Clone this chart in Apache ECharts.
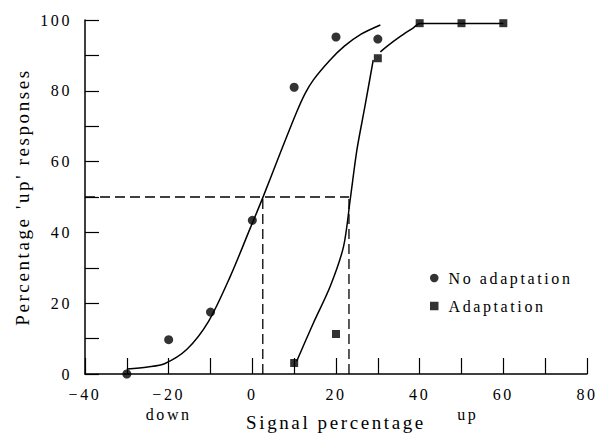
<!DOCTYPE html>
<html>
<head>
<meta charset="utf-8">
<script src="https://cdn.jsdelivr.net/npm/echarts@6/dist/echarts.min.js"></script>
<style>
html, body { margin: 0; padding: 0; background: #fff; }
#chart { width: 600px; height: 442px; }
#chart text { letter-spacing: 2.6px; }
</style>
</head>
<body>
<div id="chart"></div>
<script>
// ---- data ----
const noAdaptSignal = [-30, -20, -10, 0, 10, 20, 30];
const noAdaptUp     = [0, 9.7, 17.5, 43.4, 81, 95.2, 94.6];

const adaptSignal = [10, 20, 30, 40, 50, 60];
const adaptUp     = [3.1, 11.3, 89.2, 99.1, 99.1, 99.1];

// fitted curves
const noAdaptFitX = [-30, -25, -21, -15.7, -10.5, -5.3, -0.5, 2.6, 6.6, 10.6, 12.6, 14.6, 18.6, 22, 26, 30.6];
const noAdaptFitY = [1.4, 2.0, 2.9, 6.9, 14.8, 27.5, 41.2, 50.1, 62.2, 74.0, 79.2, 83.1, 88.7, 92.6, 96.0, 98.6];

const adaptFitLowX = [10.6, 14.6, 18.6, 21.8, 23.4, 25.0, 26.9, 28.9];
const adaptFitLowY = [3.6, 14.4, 24.7, 36.0, 49.3, 63.3, 75.5, 88.7];
const adaptFitHighX = [30.6, 32.1, 35.3, 38.5, 40, 50, 60];
const adaptFitHighY = [91.0, 92.5, 95.3, 97.8, 99, 99, 99];

// 50% points
const criterion = 50;
const pse = [2.5, 23.1];

// axis settings
const xMin = -40, xMax = 80, xStep = 10, xLabelStep = 20;
const yMin = 0, yMax = 100, yStep = 10, yLabelStep = 20;

const dirLabels = ['down', 'up'];
const dirPos = [-20, 51.5];

const FONT = "'Liberation Serif', serif";
const zip = (a, b) => a.map((v, i) => [v, b[i]]);
const lineStyle = { color: '#000', width: 1.5 };
const dashStyle = { color: '#000', width: 1.3, type: [10, 5] };

const chart = echarts.init(document.getElementById('chart'), null, { renderer: 'svg' });

const option = {
  animation: false,
  backgroundColor: '#fff',
  grid: { left: 85, right: 13, top: 20, bottom: 68 },
  xAxis: {
    type: 'value', min: xMin, max: xMax, interval: xStep,
    axisLine: { onZero: false, lineStyle: { color: '#000', width: 1.5 } },
    axisTick: { inside: true, length: 16, lineStyle: { color: '#000', width: 1.2 } },
    splitLine: { show: false },
    axisLabel: {
      color: '#000', fontFamily: FONT, fontSize: 16, margin: 12,
      formatter: v => (v % xLabelStep === 0 ? String(v).replace('-', '\u2212') : '')
    },
    name: 'Signal percentage', nameLocation: 'middle', nameGap: 39,
    nameTextStyle: { color: '#000', fontFamily: FONT, fontSize: 19 }
  },
  yAxis: {
    type: 'value', min: yMin, max: yMax, interval: yStep,
    axisLine: { show: true, onZero: false, lineStyle: { color: '#000', width: 1.5 } },
    axisTick: { show: true, inside: true, length: 14, lineStyle: { color: '#000', width: 1.2 } },
    splitLine: { show: false },
    axisLabel: {
      color: '#000', fontFamily: FONT, fontSize: 16, margin: 13,
      formatter: v => (v % yLabelStep === 0 ? String(v) : '')
    },
    name: "Percentage 'up' responses", nameLocation: 'middle', nameGap: 53, nameRotate: 90,
    nameTextStyle: { color: '#000', fontFamily: FONT, fontSize: 19 }
  },
  legend: {
    orient: 'vertical', left: 425, top: 265, itemGap: 12,
    itemWidth: 8.5, itemHeight: 8.5,
    data: [{ name: 'No adaptation', icon: 'circle' }, { name: 'Adaptation', icon: 'rect' }],
    textStyle: { color: '#000', fontFamily: FONT, fontSize: 16, padding: [0, 0, 0, 5] }
  },
  series: [
    { type: 'line', data: zip(noAdaptFitX, noAdaptFitY), smooth: 0.3, symbol: 'none', lineStyle, silent: true },
    { type: 'line', data: zip(adaptFitLowX, adaptFitLowY), smooth: 0.3, symbol: 'none', lineStyle, silent: true },
    { type: 'line', data: zip(adaptFitHighX, adaptFitHighY), smooth: 0.3, symbol: 'none', lineStyle, silent: true },
    { type: 'line', data: [[xMin, criterion], [pse[1], criterion]], symbol: 'none', lineStyle: dashStyle, silent: true },
    { type: 'line', data: [[pse[0], yMin], [pse[0], criterion]], symbol: 'none', lineStyle: dashStyle, silent: true },
    { type: 'line', data: [[pse[1], yMin], [pse[1], criterion]], symbol: 'none', lineStyle: dashStyle, silent: true },
    { name: 'No adaptation', type: 'scatter', data: zip(noAdaptSignal, noAdaptUp), symbol: 'circle', symbolSize: 9, itemStyle: { color: '#000' } },
    { name: 'Adaptation', type: 'scatter', data: zip(adaptSignal, adaptUp), symbol: 'rect', symbolSize: 8, itemStyle: { color: '#000' } }
  ]
};
chart.setOption(option);

const baseY = chart.convertToPixel({ yAxisIndex: 0 }, yMin);
chart.setOption({
  graphic: dirLabels.map((t, i) => ({
    type: 'text',
    x: chart.convertToPixel({ xAxisIndex: 0 }, dirPos[i]),
    y: baseY + 40,
    style: { text: t, fill: '#000', font: "16px 'Liberation Serif', serif", textAlign: 'center', textVerticalAlign: 'middle' }
  }))
});
</script>
</body>
</html>
